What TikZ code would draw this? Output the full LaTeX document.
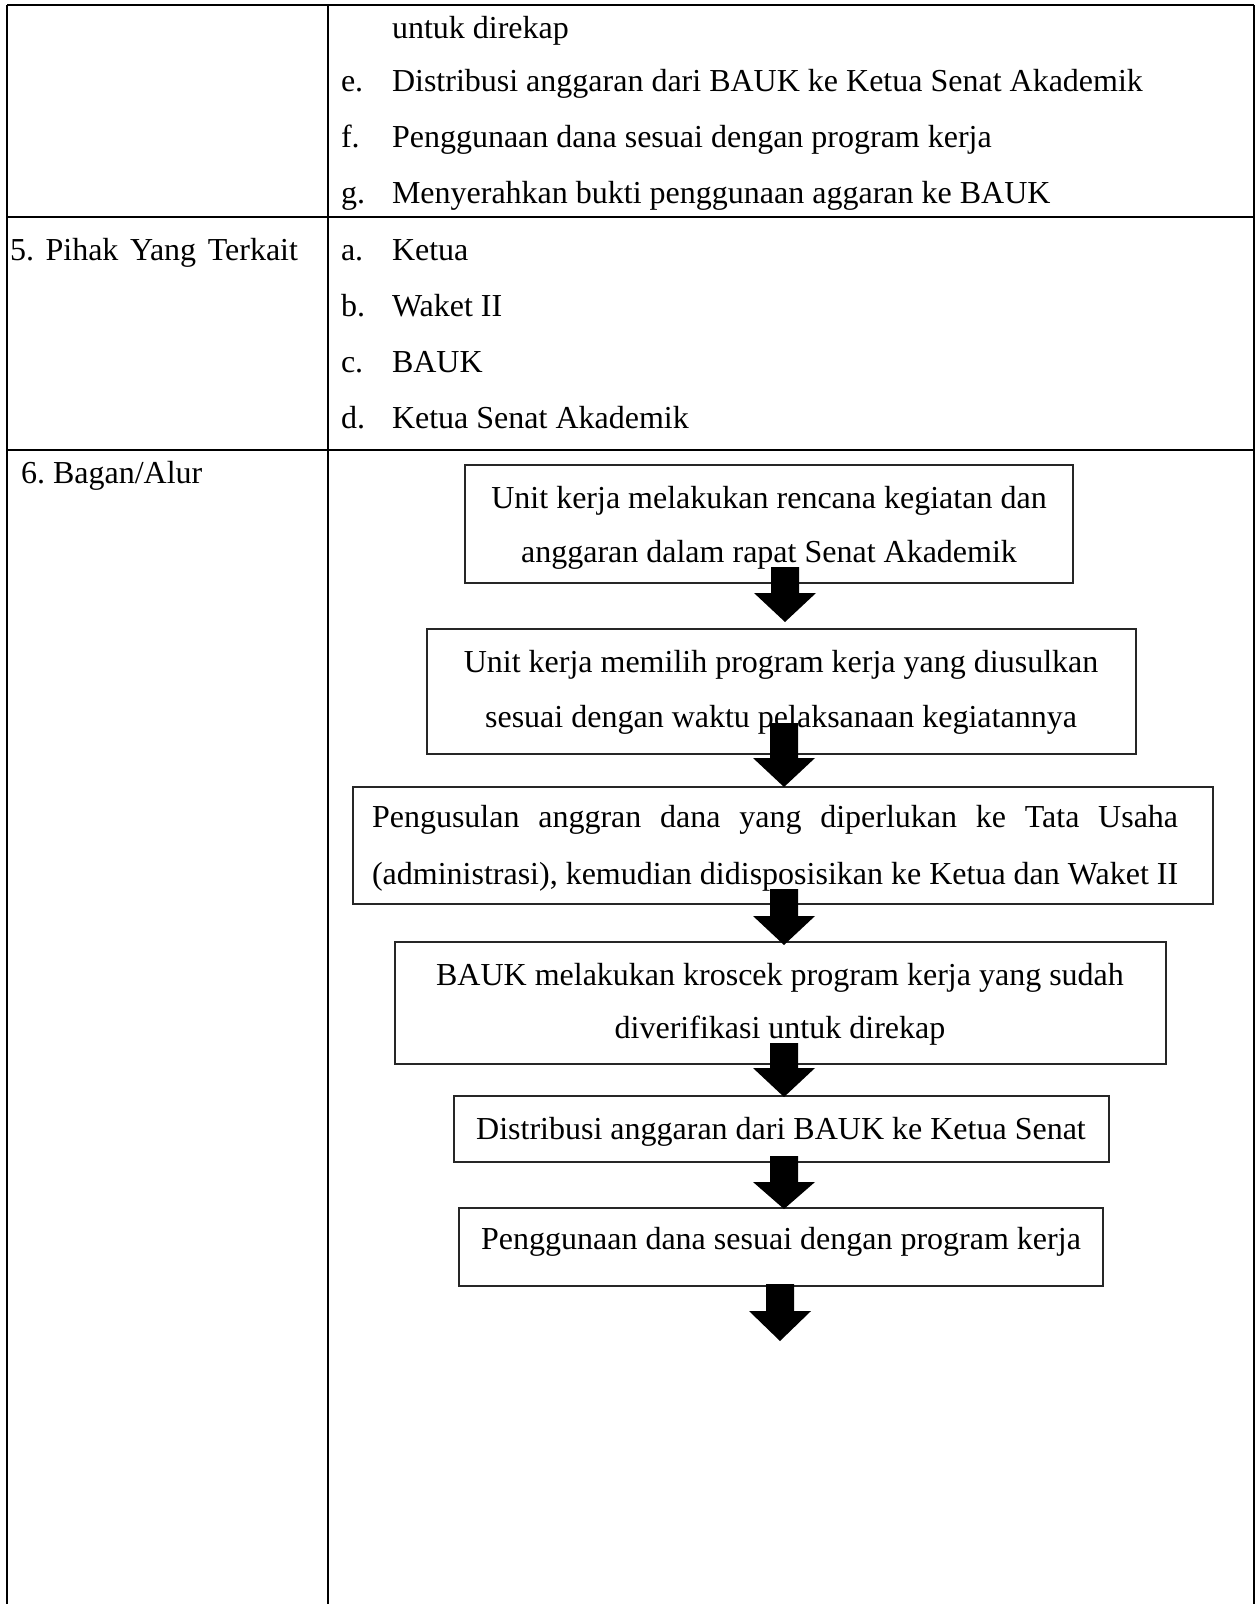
\documentclass[tikz,border=0pt]{standalone}
\usepackage{fontspec}
\setmainfont{Liberation Serif}
\newlength{\jw}
\AtBeginDocument{\fontsize{12}{14.4}\selectfont
  \settowidth{\jw}{(administrasi), kemudian didisposisikan ke Ketua dan Waket II}}
\tikzset{
  tbl/.style={line width=0.94pt, draw=black},
  flowbox/.style={draw=black!85, line width=0.56pt, rectangle, inner sep=0pt, outer sep=0pt, anchor=north west},
  txt/.style={inner sep=0pt, outer sep=0pt, anchor=base west, font=\fontsize{12}{14.4}\selectfont},
  ctxt/.style={inner sep=0pt, outer sep=0pt, anchor=base, font=\fontsize{12}{14.4}\selectfont},
  blockarr/.style={fill=black}
}
\newcommand{\blockarrow}[4]{%
  \fill[blockarr] ({#1-14},#2) -- ({#1+14},#2) -- ({#1+14},#3) -- ({#1+31},#3)
    -- (#1,#4) -- ({#1-31},#3) -- ({#1-14},#3) -- cycle;}
\begin{document}
\begin{tikzpicture}[x=0.375pt,y=-0.375pt]
\useasboundingbox (0,0) rectangle (1257,1604);
\fill[white] (0,0) rectangle (1257,1604);

% table grid
\draw[tbl] (7,5) -- (1254,5);
\draw[tbl] (7,217) -- (1254,217);
\draw[tbl] (7,450) -- (1254,450);
\draw[tbl] (7,5) -- (7,1604);
\draw[tbl] (328,5) -- (328,1604);
\draw[tbl] (1254,5) -- (1254,1604);

% row: continuation
\node[txt] (r1a) at (392,39) {untuk direkap};
\node[txt] (le) at (341,92) {e.};
\node[txt] (te) at (392,92) {Distribusi anggaran dari BAUK ke Ketua Senat Akademik};
\node[txt] (lf) at (341,148) {f.};
\node[txt] (tf) at (392,148) {Penggunaan dana sesuai dengan program kerja};
\node[txt] (lg) at (341,204) {g.};
\node[txt] (tg) at (392,204) {Menyerahkan bukti penggunaan aggaran ke BAUK};

% row 5
\node[txt] (h5) at (10,261) {\makebox[108pt][l]{5.\hfill Pihak\hfill Yang\hfill Terkait}};
\node[txt] (la) at (341,261) {a.};
\node[txt] (ta) at (392,261) {Ketua};
\node[txt] (lb) at (341,317) {b.};
\node[txt] (tb) at (392,317) {Waket II};
\node[txt] (lc) at (341,373) {c.};
\node[txt] (tc) at (392,373) {BAUK};
\node[txt] (ld) at (341,429) {d.};
\node[txt] (td) at (392,429) {Ketua Senat Akademik};

% row 6
\node[txt] (h6n) at (21,483) {6.};
\node[txt] (h6) at (53,483) {Bagan/Alur};

% flow boxes
\node[flowbox, minimum width=228pt, minimum height=44.25pt] (b1) at (465,465) {};
\node[flowbox, minimum width=265.875pt, minimum height=46.875pt] (b2) at (427,629) {};
\node[flowbox, minimum width=322.5pt, minimum height=43.875pt] (b3) at (353,787) {};
\node[flowbox, minimum width=289.125pt, minimum height=45.75pt] (b4) at (395,942) {};
\node[flowbox, minimum width=245.625pt, minimum height=24.75pt] (b5) at (454,1096) {};
\node[flowbox, minimum width=241.5pt, minimum height=29.25pt] (b6) at (459,1208) {};

% flow texts
\node[ctxt] (t1a) at (769,508) {Unit kerja melakukan rencana kegiatan dan};
\node[ctxt] (t1b) at (769,562) {anggaran dalam rapat Senat Akademik};
\node[ctxt] (t2a) at (781,672) {Unit kerja memilih program kerja yang diusulkan};
\node[ctxt] (t2b) at (781,727) {sesuai dengan waktu pelaksanaan kegiatannya};
\node[txt] (t3a) at (372,827) {\makebox[\jw][l]{Pengusulan\hfill anggran\hfill dana\hfill yang\hfill diperlukan\hfill ke\hfill Tata\hfill Usaha}};
\node[txt] (t3b) at (372,884) {(administrasi), kemudian didisposisikan ke Ketua dan Waket II};
\node[ctxt] (t4a) at (780,985) {BAUK melakukan kroscek program kerja yang sudah};
\node[ctxt] (t4b) at (780,1038) {diverifikasi untuk direkap};
\node[ctxt] (t5) at (781,1139) {Distribusi anggaran dari BAUK ke Ketua Senat};
\node[ctxt] (t6) at (781,1249) {Penggunaan dana sesuai dengan program kerja};

% block arrows
\blockarrow{785}{567}{593}{622}
\blockarrow{784}{723}{758}{787}
\blockarrow{784}{889}{916}{945}
\blockarrow{784}{1043}{1068}{1097}
\blockarrow{784}{1156}{1182}{1209}
\blockarrow{780}{1284}{1311}{1341}
\end{tikzpicture}
\end{document}
